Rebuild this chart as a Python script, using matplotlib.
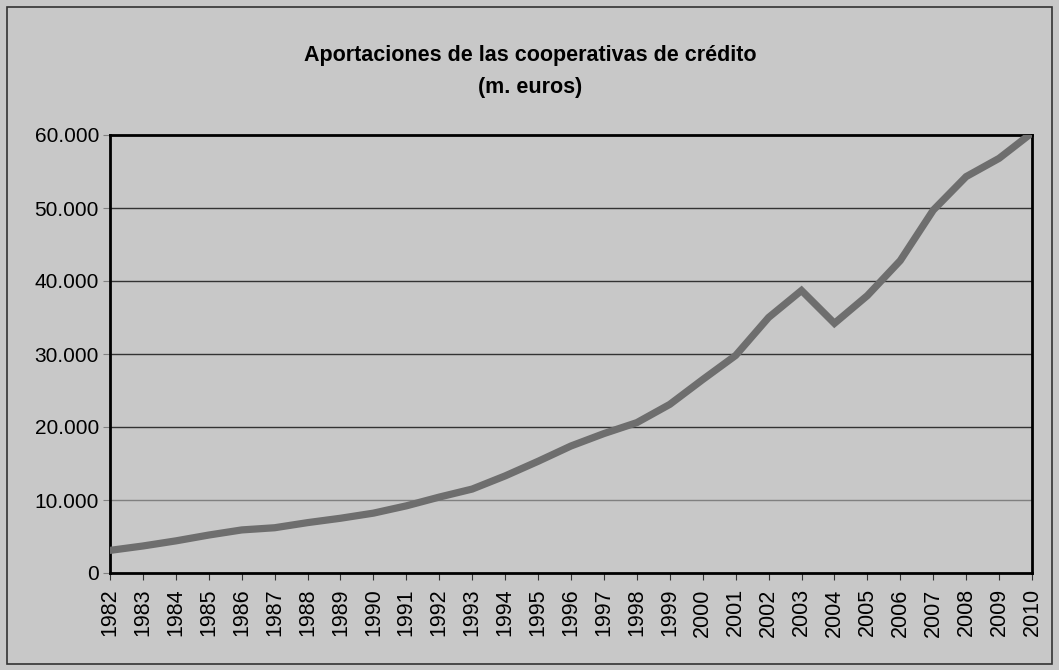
import matplotlib
matplotlib.use("Agg")
import matplotlib.pyplot as plt
from matplotlib.ticker import FuncFormatter
from matplotlib.patches import Rectangle

# Aportaciones de las cooperativas de crédito (millones de euros)
years = list(range(1982, 2011))
aportaciones = [
    3100, 3700, 4400, 5200, 5900, 6200, 6900, 7500, 8200, 9200,
    10400, 11500, 13300, 15300, 17400, 19100, 20600, 23100, 26500, 29800,
    35000, 38700, 34200, 38000, 42800, 49700, 54300, 56800, 60300,
]
y_ticks = [0, 10000, 20000, 30000, 40000, 50000, 60000]

bg = "#c8c8c8"
plt.rcParams["font.family"] = ["Liberation Sans", "DejaVu Sans"]

fig = plt.figure(figsize=(10.59, 6.70), dpi=100, facecolor=bg)
# outer chart border
fig.patches.append(Rectangle((7 / 1059, 6 / 670), 1045 / 1059, 657 / 670,
                             transform=fig.transFigure, fill=False,
                             edgecolor="#333333", linewidth=1.2))

ax = fig.add_axes([110 / 1059, 1 - 573 / 670, 922 / 1059, 438 / 670])
ax.set_facecolor(bg)

# gridlines (the 10.000 one is lighter in the original)
for v in y_ticks[1:-1]:
    col = "#808080" if v == 10000 else "#333333"
    ax.axhline(v, color=col, linewidth=1.0, zorder=1)

ax.plot(years, aportaciones, color="#6e6e6e", linewidth=5.2,
        solid_capstyle="round", solid_joinstyle="miter", zorder=3)

ax.set_xlim(years[0], years[-1])
ax.set_ylim(0, 60000)
ax.set_xticks(years)
ax.set_xticklabels([str(y) for y in years], rotation=90, fontsize=15.5)
ax.set_yticks(y_ticks)
ax.yaxis.set_major_formatter(FuncFormatter(lambda v, p: f"{int(v):,}".replace(",", ".")))
ax.tick_params(axis="y", labelsize=15, length=5, color="#808080", pad=3)
ax.tick_params(axis="x", length=5, color="#333333", pad=6)

for s in ax.spines.values():
    s.set_linewidth(2)
    s.set_color("black")

fig.text(530 / 1059, 1 - 56 / 670, "Aportaciones de las cooperativas de crédito",
         ha="center", va="center", fontsize=15.5, fontweight="bold")
fig.text(530 / 1059, 1 - 88 / 670, "(m. euros)",
         ha="center", va="center", fontsize=15.5, fontweight="bold")

fig.savefig("out.png", dpi=100, facecolor=bg)
